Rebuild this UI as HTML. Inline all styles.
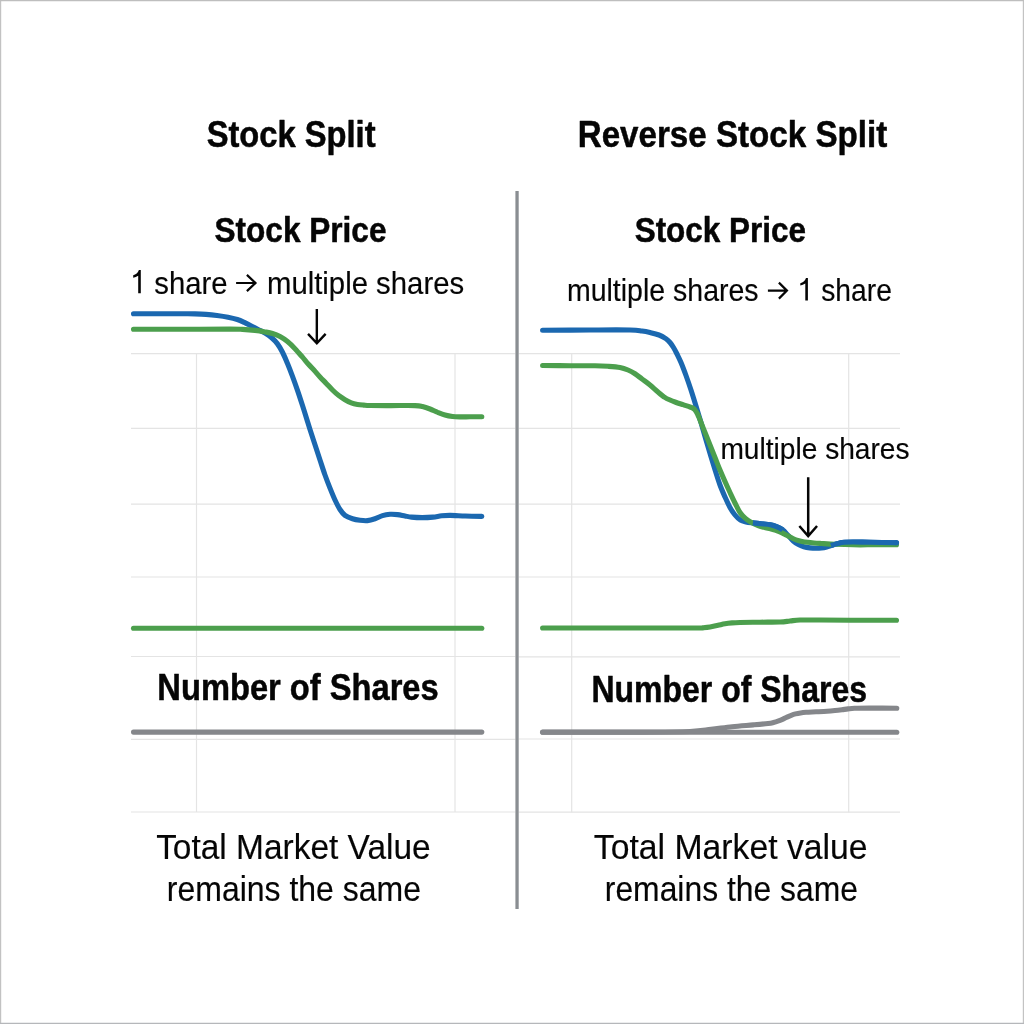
<!DOCTYPE html>
<html>
<head>
<meta charset="utf-8">
<title>Stock Split vs Reverse Stock Split</title>
<style>
html,body{margin:0;padding:0;background:#fff;width:1024px;height:1024px;overflow:hidden;}
svg{display:block;}
text{font-family:"Liberation Sans",sans-serif;fill:#050505;}
.b{font-weight:bold;stroke:#050505;stroke-width:0.5px;stroke-linejoin:round;}
.r{stroke:#050505;stroke-width:0.15px;}
</style>
</head>
<body>
<svg width="1024" height="1024" viewBox="0 0 1024 1024">
<rect x="0" y="0" width="1024" height="1024" fill="#ffffff"/>
<g fill="none" stroke-width="1.4"><path stroke="#c2c2c2" d="M0.5 0V1024"/><path stroke="#c3c3c3" d="M1023.5 0V1024"/><path stroke="#bebebe" d="M0 0.5H1024"/><path stroke="#b5b7ba" d="M0 1023.5H1024"/></g>
<g stroke="#e4e4e4" stroke-width="1.2" fill="none">
<path d="M131 353.7H515.4M131 428.3H515.4M131 504.1H515.4M131 577H515.4M131 656.5H515.4M131 739.3H515.4M131 812H515.4"/>
<path d="M196.5 353.7V812M455 353.7V812"/>
<path d="M518.7 353.6H900M518.7 428.3H900M518.7 504.1H900M518.7 577H900M518.7 656.8H900M518.7 739H900M518.7 812.2H900"/>
<path d="M571.7 353.6V812.2M848.7 353.6V812.2"/>
</g>
<path d="M517.05 191V909" stroke="#8a8e92" stroke-width="3.3" fill="none"/>
<g fill="none" stroke-width="5.1" stroke-linecap="round" stroke-linejoin="round">
<path stroke="#1b68b0" d="M133.50 313.80 C138.75 313.80 156.42 313.80 165.00 313.80 C173.58 313.80 180.00 313.78 185.00 313.80 C190.00 313.82 191.50 313.80 195.00 313.90 C198.50 314.00 202.33 314.13 206.00 314.40 C209.67 314.67 213.33 315.03 217.00 315.50 C220.67 315.97 224.62 316.53 228.00 317.20 C231.38 317.87 234.58 318.63 237.30 319.50 C240.02 320.37 241.97 321.32 244.30 322.40 C246.63 323.48 248.93 324.78 251.30 326.00 C253.67 327.22 256.13 328.48 258.50 329.70 C260.87 330.92 263.35 332.00 265.50 333.30 C267.65 334.60 269.43 335.78 271.40 337.50 C273.37 339.22 275.45 341.14 277.30 343.60 C279.15 346.06 280.80 348.93 282.50 352.25 C284.20 355.57 285.83 359.49 287.50 363.50 C289.17 367.51 290.83 371.83 292.50 376.30 C294.17 380.77 295.83 385.43 297.50 390.30 C299.17 395.17 300.83 400.30 302.50 405.50 C304.17 410.70 306.25 417.50 307.50 421.50 C308.75 425.50 308.75 425.63 310.00 429.50 C311.25 433.37 313.33 439.62 315.00 444.70 C316.67 449.78 318.33 454.95 320.00 460.00 C321.67 465.05 323.33 470.32 325.00 475.00 C326.67 479.68 328.33 483.93 330.00 488.10 C331.67 492.27 333.33 496.43 335.00 500.00 C336.67 503.57 338.33 506.93 340.00 509.50 C341.67 512.07 342.92 513.86 345.00 515.40 C347.08 516.94 350.00 517.94 352.50 518.75 C355.00 519.56 357.50 519.94 360.00 520.25 C362.50 520.56 365.00 520.85 367.50 520.60 C370.00 520.35 372.50 519.58 375.00 518.75 C377.50 517.92 380.00 516.34 382.50 515.60 C385.00 514.86 387.50 514.47 390.00 514.30 C392.50 514.13 395.00 514.32 397.50 514.60 C400.00 514.88 402.67 515.58 405.00 516.00 C407.33 516.42 408.63 516.83 411.50 517.10 C414.37 517.37 418.62 517.60 422.20 517.60 C425.78 517.60 429.77 517.40 433.00 517.10 C436.23 516.80 438.73 516.08 441.60 515.80 C444.47 515.52 446.27 515.37 450.20 515.40 C454.13 515.43 459.93 515.83 465.20 516.00 C470.47 516.17 479.03 516.33 481.80 516.40"/>
<path stroke="#4c9f4d" d="M133.50 329.20 C141.25 329.22 163.92 329.32 180.00 329.30 C196.08 329.28 219.58 329.08 230.00 329.10 C240.42 329.12 238.33 329.18 242.50 329.40 C246.67 329.62 251.25 329.98 255.00 330.40 C258.75 330.82 262.08 331.38 265.00 331.90 C267.92 332.42 270.00 332.72 272.50 333.50 C275.00 334.28 277.50 335.25 280.00 336.60 C282.50 337.95 285.00 339.58 287.50 341.60 C290.00 343.62 292.50 346.10 295.00 348.70 C297.50 351.30 300.33 354.68 302.50 357.20 C304.67 359.72 306.10 361.67 308.00 363.80 C309.90 365.93 311.90 367.82 313.90 370.00 C315.90 372.18 317.94 374.67 320.00 376.90 C322.06 379.13 324.17 381.22 326.25 383.40 C328.33 385.58 330.42 387.97 332.50 390.00 C334.58 392.03 336.67 393.98 338.75 395.60 C340.83 397.22 342.92 398.50 345.00 399.70 C347.08 400.90 349.17 402.02 351.25 402.80 C353.33 403.58 355.42 404.02 357.50 404.40 C359.58 404.78 361.67 404.92 363.75 405.10 C365.83 405.28 365.62 405.42 370.00 405.50 C374.38 405.58 382.50 405.58 390.00 405.60 C397.50 405.62 409.58 405.43 415.00 405.60 C420.42 405.77 420.00 406.03 422.50 406.60 C425.00 407.17 427.50 408.06 430.00 409.00 C432.50 409.94 435.00 411.25 437.50 412.25 C440.00 413.25 442.50 414.29 445.00 415.00 C447.50 415.71 450.00 416.18 452.50 416.50 C455.00 416.82 457.08 416.85 460.00 416.90 C462.92 416.95 466.37 416.83 470.00 416.80 C473.63 416.77 479.83 416.72 481.80 416.70"/>
<path stroke="#4c9f4d" d="M133.5 628.3H481.8"/>
<path stroke="#85878b" d="M133.5 732.1H481.8"/>
<path stroke="#1b68b0" d="M542.60 330.30 C550.50 330.25 575.43 330.05 590.00 330.00 C604.57 329.95 621.33 329.83 630.00 330.00 C638.67 330.17 638.67 330.58 642.00 331.00 C645.33 331.42 647.17 331.83 650.00 332.50 C652.83 333.17 656.33 333.96 659.00 335.00 C661.67 336.04 664.17 337.50 666.00 338.75 C667.83 340.00 668.75 341.04 670.00 342.50 C671.25 343.96 672.33 345.58 673.50 347.50 C674.67 349.42 675.75 351.50 677.00 354.00 C678.25 356.50 679.50 358.92 681.00 362.50 C682.50 366.08 684.33 370.92 686.00 375.50 C687.67 380.08 689.33 384.92 691.00 390.00 C692.67 395.08 694.33 400.58 696.00 406.00 C697.67 411.42 699.38 417.00 701.00 422.50 C702.62 428.00 704.17 433.58 705.75 439.00 C707.33 444.42 708.92 449.75 710.50 455.00 C712.08 460.25 713.67 465.50 715.25 470.50 C716.83 475.50 718.38 480.58 720.00 485.00 C721.62 489.42 723.33 493.25 725.00 497.00 C726.67 500.75 728.33 504.50 730.00 507.50 C731.67 510.50 733.25 512.88 735.00 515.00 C736.75 517.12 738.67 519.03 740.50 520.20 C742.33 521.37 743.93 521.55 746.00 522.00 C748.07 522.45 750.40 522.62 752.90 522.90 C755.40 523.18 758.08 523.40 761.00 523.70 C763.92 524.00 767.82 524.22 770.40 524.70 C772.98 525.18 774.45 525.73 776.50 526.60 C778.55 527.47 780.78 528.45 782.70 529.90 C784.62 531.35 786.23 533.45 788.00 535.30 C789.77 537.15 791.55 539.45 793.30 541.00 C795.05 542.55 796.75 543.65 798.50 544.60 C800.25 545.55 801.88 546.15 803.80 546.70 C805.72 547.25 807.95 547.63 810.00 547.90 C812.05 548.17 814.18 548.28 816.10 548.30 C818.02 548.32 819.73 548.22 821.50 548.00 C823.27 547.78 825.12 547.40 826.70 547.00 C828.28 546.60 829.53 546.08 831.00 545.60 C832.47 545.12 834.00 544.55 835.50 544.10 C837.00 543.65 838.53 543.20 840.00 542.90 C841.47 542.60 842.13 542.45 844.30 542.30 C846.47 542.15 848.72 542.00 853.00 542.00 C857.28 542.00 862.75 542.18 870.00 542.30 C877.25 542.42 892.08 542.63 896.50 542.70"/>
<path stroke="#4c9f4d" d="M542.60 365.50 C547.17 365.54 561.27 365.71 570.00 365.75 C578.73 365.79 588.67 365.66 595.00 365.75 C601.33 365.84 603.83 366.01 608.00 366.30 C612.17 366.59 616.67 366.88 620.00 367.50 C623.33 368.12 625.50 368.96 628.00 370.00 C630.50 371.04 632.67 372.25 635.00 373.75 C637.33 375.25 639.50 377.12 642.00 379.00 C644.50 380.88 647.33 382.83 650.00 385.00 C652.67 387.17 655.50 389.92 658.00 392.00 C660.50 394.08 663.00 396.17 665.00 397.50 C667.00 398.83 668.33 399.25 670.00 400.00 C671.67 400.75 672.83 401.22 675.00 402.00 C677.17 402.78 680.50 403.87 683.00 404.70 C685.50 405.53 688.33 406.40 690.00 407.00 C691.67 407.60 692.17 407.80 693.00 408.30 C693.83 408.80 694.25 409.05 695.00 410.00 C695.75 410.95 696.67 412.33 697.50 414.00 C698.33 415.67 698.75 416.92 700.00 420.00 C701.25 423.08 703.33 428.33 705.00 432.50 C706.67 436.67 708.33 440.83 710.00 445.00 C711.67 449.17 713.33 453.33 715.00 457.50 C716.67 461.67 718.33 466.00 720.00 470.00 C721.67 474.00 723.33 477.75 725.00 481.50 C726.67 485.25 728.33 488.92 730.00 492.50 C731.67 496.08 733.33 499.67 735.00 503.00 C736.67 506.33 738.27 509.93 740.00 512.50 C741.73 515.07 743.57 516.77 745.40 518.40 C747.23 520.03 748.88 521.10 751.00 522.30 C753.12 523.50 755.93 524.77 758.10 525.60 C760.27 526.43 761.95 526.75 764.00 527.30 C766.05 527.85 768.57 528.43 770.40 528.90 C772.23 529.37 773.53 529.65 775.00 530.10 C776.47 530.55 777.78 531.02 779.20 531.60 C780.62 532.18 782.03 532.87 783.50 533.60 C784.97 534.33 786.50 535.22 788.00 536.00 C789.50 536.78 791.03 537.62 792.50 538.30 C793.97 538.98 795.22 539.58 796.80 540.10 C798.38 540.62 800.25 541.03 802.00 541.40 C803.75 541.77 805.30 542.03 807.30 542.30 C809.30 542.57 811.65 542.80 814.00 543.00 C816.35 543.20 817.82 543.28 821.40 543.50 C824.98 543.72 830.23 544.08 835.50 544.30 C840.77 544.52 846.42 544.72 853.00 544.80 C859.58 544.88 867.75 544.80 875.00 544.80 C882.25 544.80 892.92 544.80 896.50 544.80"/>
<path stroke="#1b68b0" stroke-linecap="butt" d="M752.90 522.90 C755.40 523.18 758.08 523.40 761.00 523.70 C763.92 524.00 767.82 524.22 770.40 524.70 C772.98 525.18 774.45 525.73 776.50 526.60 C778.55 527.47 780.78 528.45 782.70 529.90"/>
<path stroke="#1b68b0" stroke-linecap="butt" d="M831.00 545.60 C832.47 545.12 834.00 544.55 835.50 544.10 C837.00 543.65 838.53 543.20 840.00 542.90 C841.47 542.60 842.13 542.45 844.30 542.30 C846.47 542.15 848.72 542.00 853.00 542.00 C857.28 542.00 862.75 542.18 870.00 542.30 C877.25 542.42 892.08 542.63 896.50 542.70"/>
<circle cx="896.5" cy="542.7" r="2.6" fill="#1b68b0" stroke="none"/>
<path stroke="#4c9f4d" d="M542.60 628.00 C555.50 628.00 594.60 628.00 620.00 628.00 C645.40 628.00 681.17 628.05 695.00 628.00 C708.83 627.95 700.50 627.87 703.00 627.70 C705.50 627.53 707.50 627.40 710.00 627.00 C712.50 626.60 715.50 625.84 718.00 625.30 C720.50 624.76 722.67 624.15 725.00 623.75 C727.33 623.35 729.50 623.11 732.00 622.90 C734.50 622.69 735.33 622.62 740.00 622.50 C744.67 622.38 753.33 622.28 760.00 622.20 C766.67 622.12 775.00 622.20 780.00 622.00 C785.00 621.80 786.67 621.33 790.00 621.00 C793.33 620.67 795.00 620.17 800.00 620.00 C805.00 619.83 811.67 619.97 820.00 620.00 C828.33 620.03 837.25 620.16 850.00 620.20 C862.75 620.24 888.75 620.24 896.50 620.25"/>
<path stroke="#85878b" d="M542.6 732.2H896.8"/>
<path stroke="#85878b" d="M542.60 732.10 C558.83 732.10 615.43 732.20 640.00 732.10 C664.57 732.00 678.15 731.95 690.00 731.50 C701.85 731.05 704.07 730.20 711.10 729.40 C718.13 728.60 725.17 727.45 732.20 726.70 C739.23 725.95 747.33 725.43 753.30 724.90 C759.27 724.37 764.63 723.90 768.00 723.50 C771.37 723.10 771.73 722.93 773.50 722.50 C775.27 722.07 777.02 721.47 778.60 720.90 C780.18 720.33 781.60 719.73 783.00 719.10 C784.40 718.47 785.63 717.73 787.00 717.10 C788.37 716.47 789.78 715.83 791.20 715.30 C792.62 714.77 793.95 714.30 795.50 713.90 C797.05 713.50 798.75 713.17 800.50 712.90 C802.25 712.63 803.42 712.48 806.00 712.30 C808.58 712.12 812.48 711.98 816.00 711.80 C819.52 711.62 823.93 711.42 827.10 711.20 C830.27 710.98 832.53 710.75 835.00 710.50 C837.47 710.25 839.73 709.97 841.90 709.70 C844.07 709.43 845.90 709.13 848.00 708.90 C850.10 708.67 850.95 708.43 854.50 708.30 C858.05 708.17 862.25 708.12 869.30 708.10 C876.35 708.08 892.22 708.18 896.80 708.20"/>
</g>
<g fill="none" stroke="#050505" stroke-width="2.2" stroke-linecap="butt" stroke-linejoin="miter">
<path d="M236.10 283.00H255.45M246.90 274.90L255.45 283.00L246.90 291.10"/>
<path d="M767.90 290.60H786.95M778.90 282.60L786.95 290.60L778.90 298.60"/>
<path stroke-width="2.4" d="M316.83 308.90V343.20M308.03 333.90L316.83 343.20L325.63 333.90"/>
<path stroke-width="2.5" d="M808.20 477.20V536.00M799.35 526.00L808.20 536.00L817.05 526.00"/>
</g>
<path fill="#050505" d="M140.80 270.05V293.30H138.20V275.65C136.60 276.65 135.00 277.25 133.20 277.65V275.35C135.80 274.65 137.90 272.85 138.90 270.05Z"/>
<path fill="#050505" d="M807.90 278.00V300.50H805.30V283.60C803.70 284.60 802.10 285.20 800.30 285.60V283.30C802.90 282.60 805.00 280.80 806.00 278.00Z"/>
<g style="filter:grayscale(1)">
<text class="b" x="206.64" y="147.20" font-size="36" textLength="168.91" lengthAdjust="spacingAndGlyphs">Stock Split</text>
<text class="b" x="577.73" y="147.20" font-size="36" textLength="309.55" lengthAdjust="spacingAndGlyphs">Reverse Stock Split</text>
<text class="b" x="214.50" y="242.40" font-size="35.3" textLength="171.96" lengthAdjust="spacingAndGlyphs">Stock Price</text>
<text class="b" x="634.67" y="242.40" font-size="35.3" textLength="171.38" lengthAdjust="spacingAndGlyphs">Stock Price</text>
<text class="r" x="154.24" y="293.70" font-size="31.2" textLength="73.30" lengthAdjust="spacingAndGlyphs">share</text>
<text class="r" x="266.98" y="293.70" font-size="31.2" textLength="197.14" lengthAdjust="spacingAndGlyphs">multiple shares</text>
<text class="r" x="566.95" y="301.20" font-size="31.2" textLength="191.65" lengthAdjust="spacingAndGlyphs">multiple shares</text>
<text class="r" x="821.16" y="301.20" font-size="31.2" textLength="70.70" lengthAdjust="spacingAndGlyphs">share</text>
<text class="r" x="720.42" y="459.10" font-size="29.8" textLength="189.14" lengthAdjust="spacingAndGlyphs">multiple shares</text>
<text class="b" x="157.36" y="699.50" font-size="36" textLength="281.33" lengthAdjust="spacingAndGlyphs">Number of Shares</text>
<text class="b" x="591.44" y="701.60" font-size="36" textLength="275.55" lengthAdjust="spacingAndGlyphs">Number of Shares</text>
<text class="r" x="156.14" y="859.20" font-size="34.6" textLength="274.59" lengthAdjust="spacingAndGlyphs">Total Market Value</text>
<text class="r" x="166.81" y="901.40" font-size="34.6" textLength="254.21" lengthAdjust="spacingAndGlyphs">remains the same</text>
<text class="r" x="593.85" y="859.20" font-size="34.6" textLength="273.78" lengthAdjust="spacingAndGlyphs">Total Market value</text>
<text class="r" x="604.80" y="901.40" font-size="34.6" textLength="253.10" lengthAdjust="spacingAndGlyphs">remains the same</text>
</g>
</svg>
</body>
</html>
